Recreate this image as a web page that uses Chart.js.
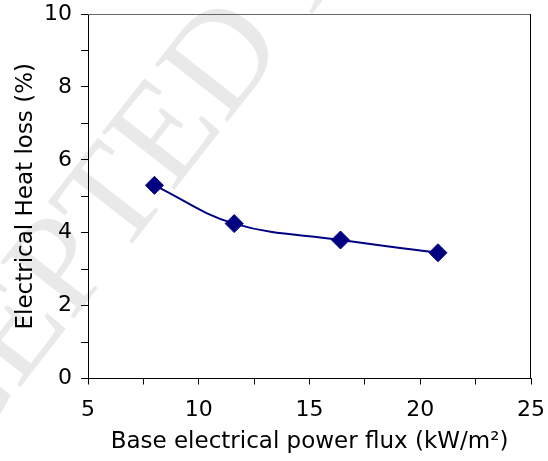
<!DOCTYPE html>
<html>
<head>
<meta charset="utf-8">
<script src="https://cdn.jsdelivr.net/npm/chart.js@4/dist/chart.umd.min.js"></script>
<style>
  html, body { margin: 0; padding: 0; background: #fff; }
  canvas { display: block; }
</style>
</head>
<body>
<canvas id="c" width="548" height="461"></canvas>
<script>
// ---- data ----
const fluxValues = [8.0, 11.6, 16.4, 20.8];          // Base electrical power flux (kW/m²)
const heatLossValues = [5.3, 4.25, 3.8, 3.45];       // Electrical Heat loss (%)
const xTickLabels = [5, 10, 15, 20, 25];
const yTickLabels = [0, 2, 4, 6, 8, 10];
const xTitle = 'Base electrical power flux (kW/m²)';
const yTitle = 'Electrical Heat loss (%)';
const watermarkText = 'ACCEPTED MANUSCRIPT';

const points = fluxValues.map((x, i) => ({ x: x, y: heatLossValues[i] }));

Chart.defaults.font.family = "'DejaVu Sans', sans-serif";
Chart.defaults.color = '#000';

const watermark = {
  id: 'watermark',
  beforeDraw(chart) {
    const ctx = chart.ctx;
    ctx.save();
    ctx.translate(-190, 596);
    ctx.rotate(-52 * Math.PI / 180);
    ctx.font = "141px 'Liberation Serif', serif";
    ctx.fillStyle = '#e9e9e9';
    ctx.textAlign = 'left';
    ctx.textBaseline = 'middle';
    ctx.fillText(watermarkText, 0, 0);
    ctx.restore();
  }
};

const frame = {
  id: 'frame',
  beforeDatasetsDraw(chart) {
    const a = chart.chartArea;
    const ctx = chart.ctx;
    ctx.save();
    ctx.lineWidth = 1;
    ctx.strokeStyle = '#666';
    ctx.beginPath();
    ctx.moveTo(a.left, a.top + 0.5);
    ctx.lineTo(a.right, a.top + 0.5);
    ctx.stroke();
    ctx.strokeStyle = '#000';
    ctx.beginPath();
    ctx.moveTo(a.right - 0.5, a.top);
    ctx.lineTo(a.right - 0.5, a.bottom);
    ctx.stroke();
    ctx.restore();
  }
};

function zeroPad(s) { s.paddingTop = 0; s.paddingBottom = 0; s.paddingLeft = 0; s.paddingRight = 0; }

new Chart(document.getElementById('c'), {
  type: 'line',
  data: {
    datasets: [{
      data: points,
      borderColor: '#000080',
      backgroundColor: '#000080',
      borderWidth: 2,
      pointStyle: 'rectRot',
      pointRadius: 9,
      pointHoverRadius: 9,
      pointBorderWidth: 1,
      tension: 0.4,
      fill: false,
      clip: false
    }]
  },
  options: {
    responsive: false,
    animation: false,
    devicePixelRatio: 1,
    layout: { padding: { left: 0, right: 17, top: 14, bottom: 0 } },
    plugins: { legend: { display: false }, tooltip: { enabled: false } },
    scales: {
      x: {
        type: 'linear',
        min: xTickLabels[0],
        max: xTickLabels[xTickLabels.length - 1],
        ticks: {
          stepSize: 2.5,
          autoSkip: false,
          maxRotation: 0,
          padding: 13,
          font: { size: 22 },
          color: '#000',
          callback: v => xTickLabels.includes(v) ? String(v) : ''
        },
        grid: { drawOnChartArea: false, drawTicks: true, tickLength: 6, tickColor: '#000', color: '#000' },
        border: { display: true, color: '#000', width: 1 },
        title: { display: true, text: xTitle, font: { size: 23 }, color: '#000', padding: { top: 0, bottom: 5 } },
        afterFit(s) { s.height = 82.5; zeroPad(s); }
      },
      y: {
        min: yTickLabels[0],
        max: yTickLabels[yTickLabels.length - 1],
        ticks: {
          stepSize: 1,
          autoSkip: false,
          padding: 9,
          font: { size: 22 },
          color: '#000',
          callback: v => yTickLabels.includes(v) ? String(v) : ''
        },
        grid: { drawOnChartArea: false, drawTicks: true, tickLength: 7, tickColor: '#000', color: '#000' },
        border: { display: true, color: '#000', width: 1 },
        title: { display: true, text: yTitle, font: { size: 23 }, color: '#000', padding: { top: 12, bottom: 0 } },
        afterFit(s) { s.width = 88; zeroPad(s); }
      }
    }
  },
  plugins: [watermark, frame]
});
</script>
</body>
</html>
